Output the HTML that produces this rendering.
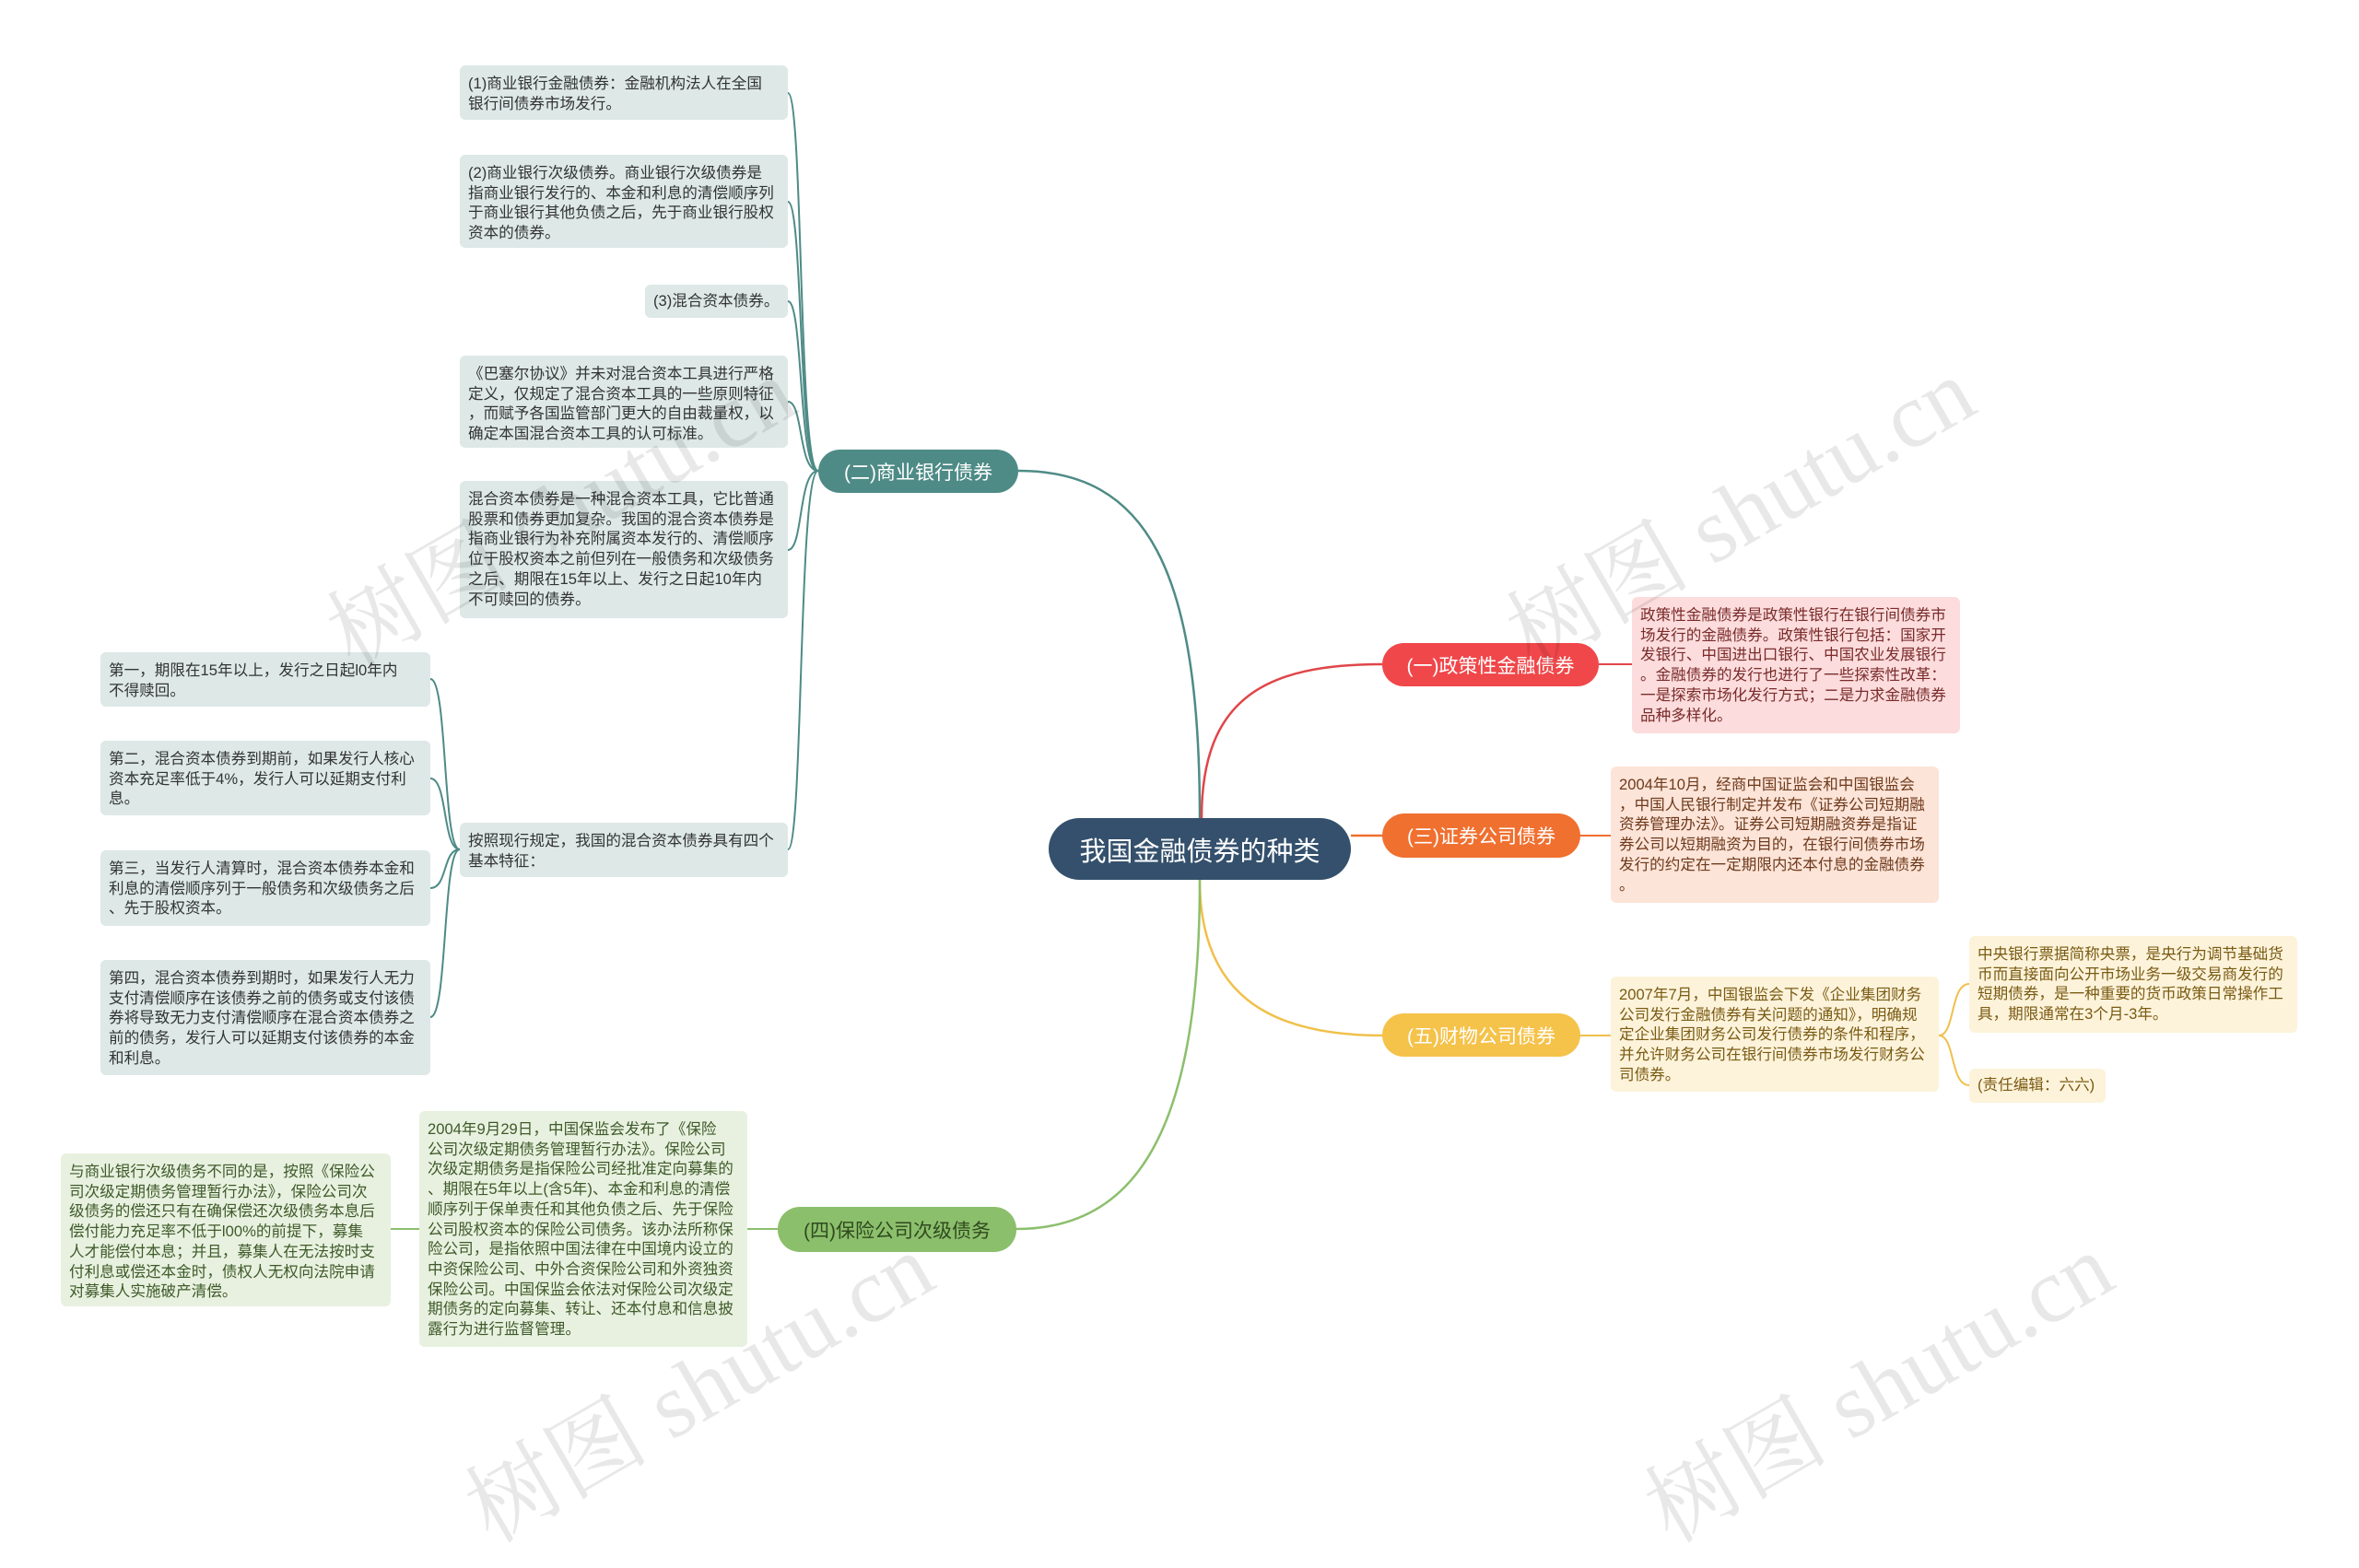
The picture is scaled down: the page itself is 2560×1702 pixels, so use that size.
<!DOCTYPE html>
<html><head><meta charset="utf-8"><style>
body{margin:0;width:2560px;height:1531px;background:#fff;position:relative;overflow:hidden;font-family:"Liberation Sans","Noto Sans CJK SC",sans-serif}
#w{position:absolute;left:-6px;top:-3px;width:2560px;height:1531px}
.b{position:absolute;box-sizing:border-box;border-radius:6px;padding:9px 9px;font-size:16.6px;line-height:21.7px;white-space:nowrap;color:#333}
.t{background:#dde8e7}
.p{background:#fcdcdc;color:#7a2b2b}
.o{background:#fde4d8;color:#6e3a1c}
.y{background:#fdf3da;color:#7a5b14}
.g{background:#e8f1df;color:#3e5a2a}
.n{position:absolute;box-sizing:border-box;color:#fff;display:flex;align-items:center;justify-content:center;font-size:21px;border-radius:24px}
.wm{position:absolute;font-family:"Liberation Serif","Noto Serif CJK SC",serif;font-size:100px;color:rgba(0,0,0,0.09);transform:rotate(-30deg);white-space:nowrap}
</style></head><body><div id="w">
<svg width="2560" height="1531" style="position:absolute;left:0;top:0" fill="none" stroke-width="2.5">
<path d="M1308 891 C1308 620,1250 514,1111 514" stroke="#4e8b86"/>
<path d="M1310 891 C1310 760,1380 724,1506 724" stroke="#e0464a"/>
<path d="M1472 910 L1506 910" stroke="#f07030"/>
<path d="M1308 958 C1308 1080,1380 1127,1506 1127" stroke="#f0c04a"/>
<path d="M1308 958 C1308 1210,1250 1337,1109 1337" stroke="#8cbf6c"/>
<g stroke="#4e8b86" stroke-width="2">
<path d="M894 514 C872 514,878 104,861 104"/>
<path d="M894 514 C872 514,878 222,861 222"/>
<path d="M894 514 C872 514,878 330,861 330"/>
<path d="M894 514 C872 514,878 439,861 439"/>
<path d="M894 514 C872 514,878 600,861 600"/>
<path d="M894 514 C872 514,878 925,861 925"/>
<path d="M505 925 C486 925,492 740,473 740"/>
<path d="M505 925 C486 925,492 848,473 848"/>
<path d="M505 925 C486 925,492 967,473 967"/>
<path d="M505 925 C486 925,492 1107,473 1107"/>
</g>
<path d="M1741 724 L1777 724" stroke="#e0464a" stroke-width="2"/>
<path d="M1721 910 L1754 910" stroke="#f07030" stroke-width="2"/>
<path d="M1721 1127 L1754 1127" stroke="#f0c04a" stroke-width="2"/>
<path d="M2110 1127 C2128 1127,2122 1071,2143 1071" stroke="#f0c04a" stroke-width="2"/>
<path d="M2110 1127 C2128 1127,2122 1181,2143 1181" stroke="#f0c04a" stroke-width="2"/>
<path d="M850 1337 L817 1337" stroke="#8cbf6c" stroke-width="2"/>
<path d="M461 1337 L430 1337" stroke="#8cbf6c" stroke-width="2"/>
</svg>

<div class="n" style="left:1144px;top:891px;width:328px;height:67px;background:#34506c;font-size:29px;border-radius:34px">我国金融债券的种类</div>
<div class="n" style="left:894px;top:491px;width:217px;height:47px;background:#4e8b86">(二)商业银行债券</div>
<div class="n" style="left:1506px;top:701px;width:235px;height:47px;background:#f0474a">(一)政策性金融债券</div>
<div class="n" style="left:1506px;top:886px;width:215px;height:48px;background:#f07030">(三)证券公司债券</div>
<div class="n" style="left:1506px;top:1103px;width:215px;height:47px;background:#f5c24a">(五)财物公司债券</div>
<div class="n" style="left:850px;top:1313px;width:259px;height:49px;background:#8cbf6c;color:#2f4a1e">(四)保险公司次级债务</div>

<div class="b t" style="left:505px;top:74px;width:356px;height:59px">(1)商业银行金融债券：金融机构法人在全国<br>银行间债券市场发行。</div>
<div class="b t" style="left:505px;top:171px;width:356px;height:101px">(2)商业银行次级债券。商业银行次级债券是<br>指商业银行发行的、本金和利息的清偿顺序列<br>于商业银行其他负债之后，先于商业银行股权<br>资本的债券。</div>
<div class="b t" style="left:706px;top:312px;width:155px;height:36px;padding-top:7px">(3)混合资本债券。</div>
<div class="b t" style="left:505px;top:389px;width:356px;height:100px">《巴塞尔协议》并未对混合资本工具进行严格<br>定义，仅规定了混合资本工具的一些原则特征<br>，而赋予各国监管部门更大的自由裁量权，以<br>确定本国混合资本工具的认可标准。</div>
<div class="b t" style="left:505px;top:525px;width:356px;height:149px">混合资本债券是一种混合资本工具，它比普通<br>股票和债券更加复杂。我国的混合资本债券是<br>指商业银行为补充附属资本发行的、清偿顺序<br>位于股权资本之前但列在一般债务和次级债务<br>之后、期限在15年以上、发行之日起10年内<br>不可赎回的债券。</div>
<div class="b t" style="left:505px;top:896px;width:356px;height:59px">按照现行规定，我国的混合资本债券具有四个<br>基本特征：</div>
<div class="b t" style="left:115px;top:711px;width:358px;height:59px">第一，期限在15年以上，发行之日起l0年内<br>不得赎回。</div>
<div class="b t" style="left:115px;top:807px;width:358px;height:81px">第二，混合资本债券到期前，如果发行人核心<br>资本充足率低于4%，发行人可以延期支付利<br>息。</div>
<div class="b t" style="left:115px;top:926px;width:358px;height:82px">第三，当发行人清算时，混合资本债券本金和<br>利息的清偿顺序列于一般债务和次级债务之后<br>、先于股权资本。</div>
<div class="b t" style="left:115px;top:1045px;width:358px;height:125px">第四，混合资本债券到期时，如果发行人无力<br>支付清偿顺序在该债券之前的债务或支付该债<br>券将导致无力支付清偿顺序在混合资本债券之<br>前的债务，发行人可以延期支付该债券的本金<br>和利息。</div>

<div class="b p" style="left:1777px;top:651px;width:356px;height:148px">政策性金融债券是政策性银行在银行间债券市<br>场发行的金融债券。政策性银行包括：国家开<br>发银行、中国进出口银行、中国农业发展银行<br>。金融债券的发行也进行了一些探索性改革：<br>一是探索市场化发行方式；二是力求金融债券<br>品种多样化。</div>
<div class="b o" style="left:1754px;top:835px;width:356px;height:148px">2004年10月，经商中国证监会和中国银监会<br>，中国人民银行制定并发布《证券公司短期融<br>资券管理办法》。证券公司短期融资券是指证<br>券公司以短期融资为目的，在银行间债券市场<br>发行的约定在一定期限内还本付息的金融债券<br>。</div>
<div class="b y" style="left:1754px;top:1063px;width:356px;height:125px">2007年7月，中国银监会下发《企业集团财务<br>公司发行金融债券有关问题的通知》，明确规<br>定企业集团财务公司发行债券的条件和程序，<br>并允许财务公司在银行间债券市场发行财务公<br>司债券。</div>
<div class="b y" style="left:2143px;top:1019px;width:356px;height:105px">中央银行票据简称央票，是央行为调节基础货<br>币而直接面向公开市场业务一级交易商发行的<br>短期债券，是一种重要的货币政策日常操作工<br>具，期限通常在3个月-3年。</div>
<div class="b y" style="left:2143px;top:1163px;width:148px;height:37px;padding-top:7px">(责任编辑：六六)</div>

<div class="b g" style="left:461px;top:1209px;width:356px;height:256px">2004年9月29日，中国保监会发布了《保险<br>公司次级定期债务管理暂行办法》。保险公司<br>次级定期债务是指保险公司经批准定向募集的<br>、期限在5年以上(含5年)、本金和利息的清偿<br>顺序列于保单责任和其他负债之后、先于保险<br>公司股权资本的保险公司债务。该办法所称保<br>险公司，是指依照中国法律在中国境内设立的<br>中资保险公司、中外合资保险公司和外资独资<br>保险公司。中国保监会依法对保险公司次级定<br>期债务的定向募集、转让、还本付息和信息披<br>露行为进行监督管理。</div>
<div class="b g" style="left:72px;top:1255px;width:358px;height:166px">与商业银行次级债务不同的是，按照《保险公<br>司次级定期债务管理暂行办法》，保险公司次<br>级债务的偿还只有在确保偿还次级债务本息后<br>偿付能力充足率不低于l00%的前提下，募集<br>人才能偿付本息；并且，募集人在无法按时支<br>付利息或偿还本金时，债权人无权向法院申请<br>对募集人实施破产清偿。</div>

<div class="wm" style="left:330px;top:480px">树图 shutu.cn</div>
<div class="wm" style="left:1610px;top:480px">树图 shutu.cn</div>
<div class="wm" style="left:480px;top:1430px">树图 shutu.cn</div>
<div class="wm" style="left:1760px;top:1430px">树图 shutu.cn</div>
</div></body></html>
